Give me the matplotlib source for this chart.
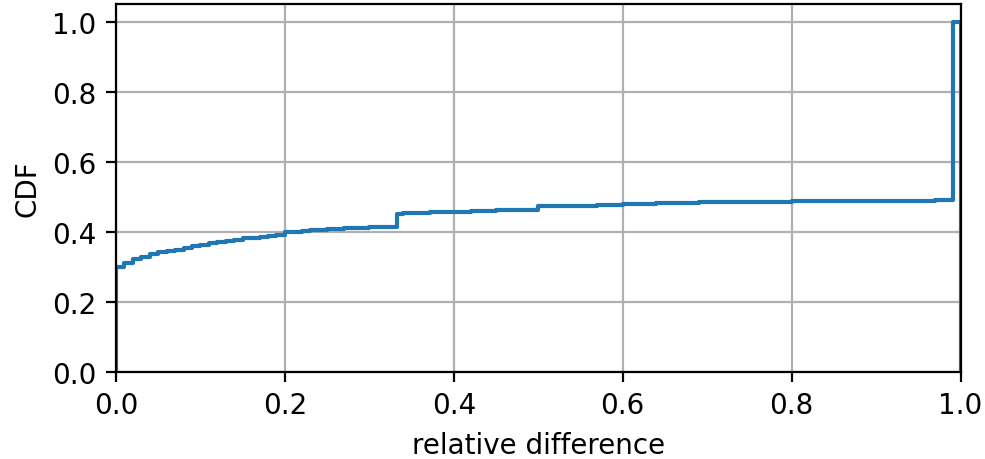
import matplotlib
matplotlib.use("Agg")
import matplotlib.pyplot as plt

# step edges (relative difference) and CDF values after each edge
edges = [0.0, 0.0, 0.01, 0.02, 0.03, 0.04, 0.05, 0.06, 0.07, 0.08, 0.09, 0.10,
         0.11, 0.12, 0.13, 0.14, 0.15, 0.16, 0.17, 0.18, 0.19, 0.20,
         0.22, 0.23, 0.25, 0.27, 0.30, 0.333, 0.34, 0.372, 0.42, 0.45,
         0.50, 0.57, 0.60, 0.64, 0.66, 0.69, 0.75, 0.80, 0.88, 0.97, 0.991, 1.0, 1.0]
cdf = [0.0, 0.299, 0.310, 0.321, 0.329, 0.336, 0.342, 0.346, 0.349, 0.354, 0.359, 0.363,
       0.368, 0.370, 0.373, 0.378, 0.381, 0.383, 0.386, 0.388, 0.390, 0.399,
       0.401, 0.404, 0.408, 0.410, 0.414, 0.451, 0.453, 0.456, 0.459, 0.462,
       0.473, 0.476, 0.480, 0.482, 0.483, 0.485, 0.486, 0.487, 0.489, 0.490, 1.0, 1.0, 0.0]

xticks = [0.0, 0.2, 0.4, 0.6, 0.8, 1.0]
yticks = [0.0, 0.2, 0.4, 0.6, 0.8, 1.0]

dpi = 200
W, H = 985, 460
fig = plt.figure(figsize=(W / dpi, H / dpi), dpi=dpi)
ax = fig.add_axes([116 / W, 1 - 373 / H, (960.5 - 116) / W, (373 - 5) / H])
ax.plot(edges, cdf, drawstyle="steps-post", color="#1f77b4", linewidth=1.5)
ax.set_xlim(0, 1)
ax.set_ylim(0, 1.05)
ax.set_xticks(xticks)
ax.set_yticks(yticks)
ax.set_xticklabels([f"{t:.1f}" for t in xticks])
ax.set_yticklabels([f"{t:.1f}" for t in yticks])
ax.grid(True)
ax.set_xlabel("relative difference")
ax.set_ylabel("CDF")
fig.savefig("out.png", dpi=dpi)
